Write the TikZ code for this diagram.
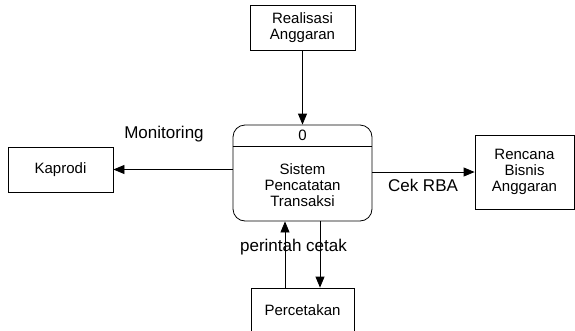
\documentclass[tikz,border=0pt]{standalone}
\usepackage{fontspec}
\setmainfont{Liberation Sans}
\usetikzlibrary{arrows.meta,positioning}

\tikzset{
  entitas/.style={draw, line width=0.8pt, align=center, inner sep=0pt,
    font=\fontsize{15}{16}\selectfont},
  proses/.style={draw, line width=0.8pt, rounded corners=12pt, inner sep=0pt,
    minimum width=139pt, minimum height=96pt},
  alir/.style={line width=0.8pt, -{Triangle[length=11pt,width=9pt]}},
  ket/.style={font=\fontsize{17}{19}\selectfont, inner sep=0pt}
}

\begin{document}
\begin{tikzpicture}[x=1pt,y=-1pt]
            \useasboundingbox (0,0) rectangle (575,330);
            \clip (0,0) rectangle (575,330);

            % entitas luar
            \node [entitas, minimum width=105pt, minimum height=45pt] (real) at (302.5,27.5) {Realisasi\\Anggaran};
            \node [entitas, minimum width=105pt, minimum height=45pt] (kap) at (60.5,169.5) {Kaprodi};
            \node [entitas, minimum width=99pt, minimum height=74pt] (rba) at (524.5,172) {Rencana\\Bisnis\\Anggaran};
            \node [entitas, minimum width=103pt, minimum height=45pt] (cetak) at (302.5,310.5) {Percetakan};

            % proses 0
            \node [proses] (proc) at (302.5,173) {};
            \draw [line width=0.8pt] ([yshift=-22pt]proc.north west) -- ([yshift=-22pt]proc.north east);
            \node [entitas, draw=none] (nomor) at (302.5,135) {0};
            \node [entitas, draw=none] (nama) at (302.5,185) {Sistem\\Pencatatan\\Transaksi};

            % aliran data
            \draw [alir] (real.south) -- (proc.north);
            \draw [alir] (kap.east -| proc.west) -- (kap.east);
            \draw [alir] (rba.west -| proc.east) -- (rba.west);
            \coordinate (naik) at (285,0);
            \coordinate (turun) at (320,0);
            \draw [alir] (naik |- cetak.north) -- (naik |- proc.south);
            \draw [alir] (turun |- proc.south) -- (turun |- cetak.north);

            \node [ket] (lmon) at (164,134) {Monitoring};
            \node [ket] (lcek) at (423,185) {Cek RBA};
            \node [ket] (lcetak) at (293.5,247) {perintah cetak};
        \end{tikzpicture}
\end{document}
